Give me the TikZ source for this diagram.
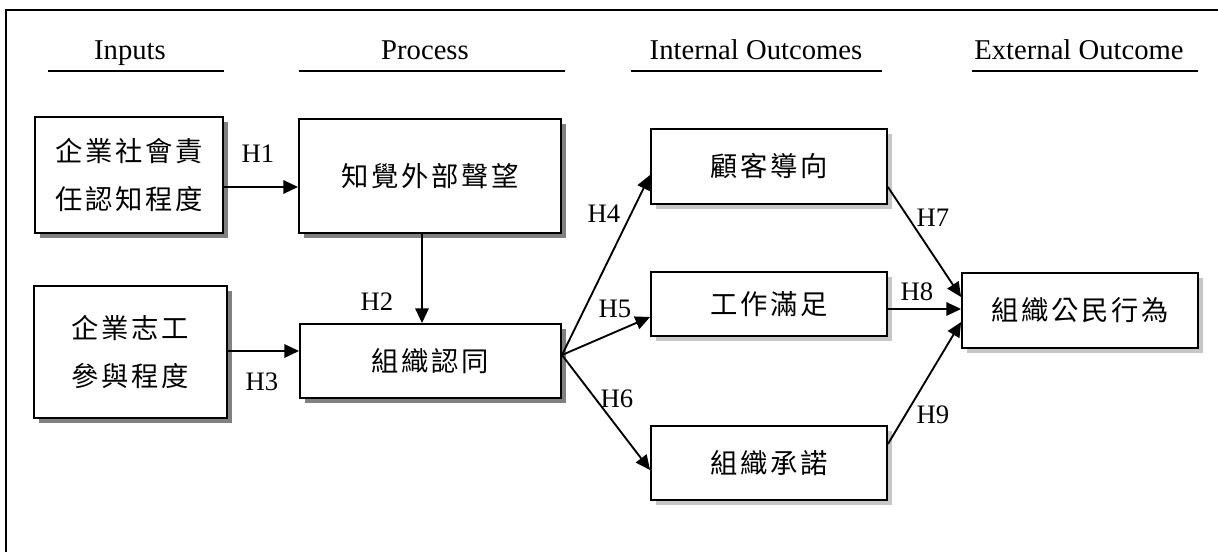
\documentclass[tikz,border=0pt]{standalone}
\usepackage{fontspec}
\setmainfont{Liberation Serif}
\newfontfamily\cjk[LetterSpace=10]{Noto Sans CJK TC}
\usetikzlibrary{arrows.meta,shadows}

\begin{document}
\begin{tikzpicture}[x=0.75pt,y=-0.75pt,
  every node/.style={font=\fontsize{20pt}{24pt}\selectfont, inner sep=0pt},
  box/.style={draw, line width=1.4pt, fill=white, inner sep=0pt, align=center,
    font=\cjk\fontsize{20.5pt}{36pt}\selectfont},
  darkshadow/.style={general shadow={fill=black!50, shadow xshift=4pt, shadow yshift=-4pt}},
  lightshadow/.style={general shadow={fill=black!22, shadow xshift=4pt, shadow yshift=-4pt}},
  arr/.style={line width=1.4pt, -{Triangle[length=11pt,width=10pt]}},
  rule/.style={line width=1.4pt},
  hdr/.style={anchor=base, font=\fontsize{21.5pt}{26pt}\selectfont},
  hlab/.style={}]

\useasboundingbox (0,0) rectangle (1218,552);

% open frame (left and top edges)
\coordinate (fbl) at (6,552);
\coordinate (ftl) at (6,10);
\coordinate (ftr) at (1218,10);
\draw[line width=1.5pt] (fbl) -- (ftl) -- (ftr);

% column headings and their rules
\node[hdr] (hin)  at (130,60)  {Inputs};
\node[hdr] (hpr)  at (425,60)  {Process};
\node[hdr] (hint) at (756,60)  {Internal Outcomes};
\node[hdr] (hext) at (1079,60) {External Outcome};
\coordinate (r1a) at (48,71);  \coordinate (r1b) at (224,71);
\coordinate (r2a) at (299,71); \coordinate (r2b) at (565,71);
\coordinate (r3a) at (631,71); \coordinate (r3b) at (882,71);
\coordinate (r4a) at (972,71); \coordinate (r4b) at (1198,71);
\draw[rule] (r1a) -- (r1b);
\draw[rule] (r2a) -- (r2b);
\draw[rule] (r3a) -- (r3b);
\draw[rule] (r4a) -- (r4b);

% boxes
\node[box, darkshadow, minimum width=141pt, minimum height=87pt] (inA) at (129,175)
  {企業社會責\\任認知程度};
\node[box, darkshadow, minimum width=144.75pt, minimum height=99pt] (inB) at (130.5,352)
  {企業志工\\參與程度};
\node[box, darkshadow, minimum width=196.5pt, minimum height=85.5pt] (rep) at (430,176)
  {知覺外部聲望};
\node[box, darkshadow, minimum width=195.75pt, minimum height=55.5pt] (oid) at (430.5,361)
  {組織認同};
\node[box, lightshadow, minimum width=177pt, minimum height=56.25pt] (cust) at (769,166.5)
  {顧客導向};
\node[box, lightshadow, minimum width=177pt, minimum height=48pt] (job) at (769,304)
  {工作滿足};
\node[box, lightshadow, minimum width=177pt, minimum height=55.5pt] (comm) at (769,463)
  {組織承諾};
\node[box, lightshadow, minimum width=177pt, minimum height=56.25pt] (ocb) at (1080,310.5)
  {組織公民行為};

% connector heights
\coordinate (y187) at (0,187);
\coordinate (y351) at (0,351);
\coordinate (x422) at (422,0);
\coordinate (fo) at (562,355);
\coordinate (y175) at (0,175);
\coordinate (y317) at (0,317);
\coordinate (y470) at (0,470);
\coordinate (y297) at (0,297);
\coordinate (y309) at (0,309);
\coordinate (y322) at (0,322);
\coordinate (y444) at (0,444);

% connectors
\draw[arr] (inA.east |- y187) -- (rep.west |- y187);
\draw[arr] (rep.south -| x422) -- (oid.north -| x422);
\draw[arr] (inB.east |- y351) -- (oid.west |- y351);
\draw[arr] (fo) -- (cust.west |- y175);
\draw[arr] (fo) -- (job.west |- y317);
\draw[arr] (fo) -- (comm.west |- y470);
\draw[arr] (cust.east |- y187) -- (ocb.west |- y297);
\draw[arr] (job.east |- y309) -- (ocb.west |- y309);
\draw[arr] (comm.east |- y444) -- (ocb.west |- y322);

% hypothesis labels
\node[hlab] (h1) at (258,154) {H1};
\node[hlab] (h2) at (377,302) {H2};
\node[hlab] (h3) at (262,382) {H3};
\node[hlab] (h4) at (604,214) {H4};
\node[hlab] (h5) at (615,309) {H5};
\node[hlab] (h6) at (617,399) {H6};
\node[hlab] (h7) at (933,218) {H7};
\node[hlab] (h8) at (917,292) {H8};
\node[hlab] (h9) at (933,415) {H9};
\end{tikzpicture}
\end{document}
